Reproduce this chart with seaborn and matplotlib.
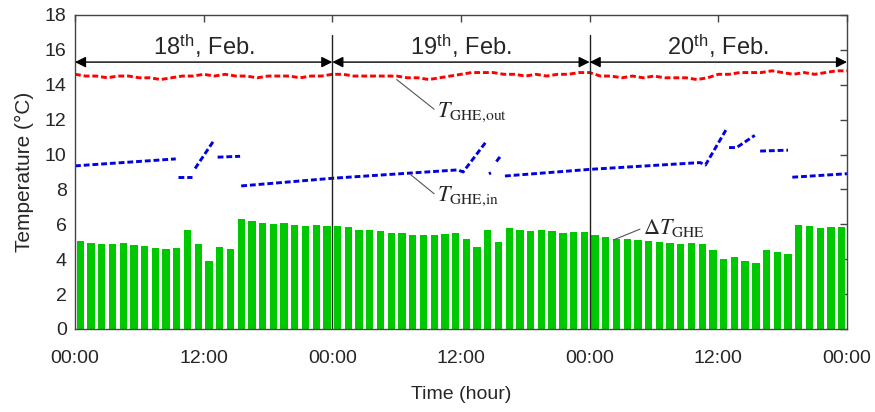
import numpy as np
import pandas as pd
import matplotlib
matplotlib.use("Agg")
import matplotlib.pyplot as plt
import seaborn as sns

# hourly outlet temperature, t = 0..72 h
tout_hours = list(range(73))
tout_temp = [
    14.6, 14.5, 14.5, 14.4, 14.5, 14.5, 14.4, 14.4, 14.3, 14.4, 14.5, 14.5,
    14.6, 14.5, 14.6, 14.5, 14.5, 14.4, 14.5, 14.5, 14.5, 14.4, 14.5, 14.5,
    14.6, 14.6, 14.5, 14.5, 14.5, 14.5, 14.5, 14.4, 14.4, 14.3, 14.4, 14.5,
    14.6, 14.7, 14.7, 14.7, 14.6, 14.6, 14.5, 14.6, 14.5, 14.6, 14.6, 14.7,
    14.7, 14.5, 14.5, 14.4, 14.5, 14.4, 14.5, 14.4, 14.4, 14.4, 14.3, 14.4,
    14.6, 14.6, 14.7, 14.7, 14.7, 14.8, 14.7, 14.6, 14.7, 14.6, 14.7, 14.8,
    14.8,
]

# inlet temperature, broken into segments where the record jumps
tin_seg = [1, 1, 2, 2, 3, 3, 4, 4, 5, 5, 5, 5, 5, 6, 6, 7, 7,
           8, 8, 8, 8, 8, 9, 9, 9, 10, 10, 11, 11]
tin_hour = [0, 9.4, 9.6, 10.9, 11.2, 13.0, 13.3, 15.4,
            15.5, 24, 35.7, 36.2, 38.3, 38.6, 38.8, 39.3, 39.8,
            40.1, 48, 58.3, 58.8, 60.7, 61.0, 61.7, 63.4, 63.9, 66.5,
            66.9, 72]
tin_temp = [9.35, 9.75, 8.73, 8.73, 9.2, 10.85, 9.85, 9.9,
            8.2, 8.64, 9.12, 9.0, 10.7, 8.9, 8.95, 9.6, 10.0,
            8.77, 9.15, 9.54, 9.4, 11.4, 10.4, 10.4, 11.1, 10.2, 10.25,
            8.7, 8.9]

# hourly temperature difference
dt_hours = list(range(72))
dt_temp = [
    5.05, 4.95, 4.9, 4.9, 4.93, 4.82, 4.75, 4.65, 4.6, 4.65, 5.7, 4.9,
    3.9, 4.7, 4.58, 6.3, 6.18, 6.05, 6.02, 6.05, 5.95, 5.92, 5.95, 5.9,
    5.88, 5.85, 5.7, 5.67, 5.6, 5.52, 5.5, 5.37, 5.38, 5.4, 5.45, 5.5,
    5.15, 4.7, 5.7, 5.0, 5.8, 5.7, 5.6, 5.68, 5.6, 5.5, 5.55, 5.55,
    5.4, 5.3, 5.18, 5.15, 5.1, 5.03, 5.0, 4.95, 4.9, 4.92, 4.88, 4.5,
    4.0, 4.15, 3.9, 3.8, 4.55, 4.42, 4.3, 5.98, 5.9, 5.8, 5.82, 5.82,
]

day_bounds = [0, 24, 48, 72]
day_labels = [r"18$^{\mathregular{th}}$, Feb.", r"19$^{\mathregular{th}}$, Feb.",
              r"20$^{\mathregular{th}}$, Feb."]
x_ticks = [0, 12, 24, 36, 48, 60, 72]
x_ticklabels = ["00:00", "12:00", "00:00", "12:00", "00:00", "12:00", "00:00"]

sns.set_theme(style="white")
plt.rcParams["font.family"] = ["Liberation Sans", "DejaVu Sans"]
plt.rcParams["mathtext.fontset"] = "stix"

df_out = pd.DataFrame({"hour": tout_hours, "temp": tout_temp})
df_in = pd.DataFrame({"seg": tin_seg, "hour": tin_hour, "temp": tin_temp})
df_dt = pd.DataFrame({"hour": dt_hours, "dt": dt_temp})
df_dt["mid"] = df_dt["hour"] + 0.5

fig = plt.figure(figsize=(8.75, 4.12), dpi=100)
ax = fig.add_axes([0.0857, 0.2015, 0.8823, 0.7621])

sns.barplot(data=df_dt, x="mid", y="dt", native_scale=True, width=0.68,
            color="#00c800", saturation=1, linewidth=0, errorbar=None, ax=ax)

dash = (0, (2.0, 1.0))
sns.lineplot(data=df_out, x="hour", y="temp", color="#ff0000", lw=2.1,
             linestyle=dash, ax=ax)
sns.lineplot(data=df_in, x="hour", y="temp", units="seg", estimator=None,
             color="#0000e0", lw=2.1, linestyle=dash, ax=ax)

# day separators, arrows and labels
for b in day_bounds[1:-1]:
    ax.plot([b, b], [0, 16.85], color="#222222", lw=1)
for i, lab in enumerate(day_labels):
    a, b = day_bounds[i], day_bounds[i + 1]
    ax.annotate("", xy=(b, 15.3), xytext=(a, 15.3),
                arrowprops=dict(arrowstyle="<|-|>", color="black", lw=1,
                                mutation_scale=16, shrinkA=0, shrinkB=0))
    ax.text((a + b) / 2, 16.2, lab, ha="center", va="center", fontsize=17)

# series labels with leader lines
lead = dict(arrowstyle="-", color="#555555", lw=0.8, shrinkA=0, shrinkB=0,
            relpos=(0, 0.5))
ax.annotate(r"$T_{\mathrm{GHE{,}out}}$", xy=(30.0, 14.3), xytext=(33.8, 12.45),
            fontsize=16, va="center", ha="left", arrowprops=lead)
ax.annotate(r"$T_{\mathrm{GHE{,}in}}$", xy=(31.3, 8.85), xytext=(33.8, 7.6),
            fontsize=16, va="center", ha="left", arrowprops=lead)
ax.annotate(r"$\Delta T_{\mathrm{GHE}}$", xy=(50.2, 5.1), xytext=(53.0, 5.8),
            fontsize=16, va="center", ha="left", arrowprops=lead)

ax.set_xlim(0, 72)
ax.set_ylim(0, 18)
ax.set_xticks(x_ticks)
ax.set_xticklabels(x_ticklabels)
ax.set_yticks(range(0, 19, 2))
ax.tick_params(axis="both", direction="in", top=True, right=True,
               length=5, width=1, color="#444444", labelsize=14)
ax.tick_params(axis="x", pad=15)
ax.tick_params(axis="y", pad=6)
for sp in ax.spines.values():
    sp.set_color("#444444")
    sp.set_linewidth(1)
ax.set_xlabel("Time (hour)", fontsize=14, labelpad=14)
ax.set_ylabel("Temperature (\u00b0C)", fontsize=15, labelpad=8)

fig.savefig("out.png", dpi=100)
